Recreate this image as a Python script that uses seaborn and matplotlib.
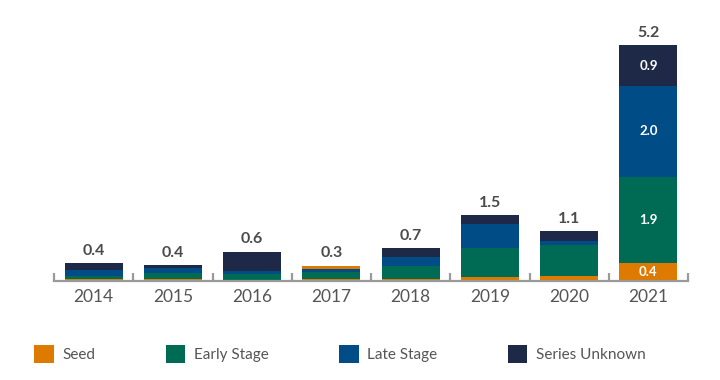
import matplotlib
matplotlib.use("Agg")
import matplotlib.pyplot as plt
import numpy as np
import pandas as pd
import seaborn as sns
from matplotlib.patches import Patch
from matplotlib.ticker import FixedLocator

years = ["2014", "2015", "2016", "2017", "2018", "2019", "2020", "2021"]
seed = [0.04, 0.04, 0.02, 0.03, 0.03, 0.08, 0.10, 0.4]
early = [0.06, 0.13, 0.13, 0.16, 0.30, 0.64, 0.68, 1.9]
late = [0.14, 0.10, 0.07, 0.07, 0.20, 0.53, 0.10, 2.0]
unknown = [0.15, 0.08, 0.42, 0.07, 0.19, 0.20, 0.21, 0.9]
totals = [0.4, 0.4, 0.6, 0.3, 0.7, 1.5, 1.1, 5.2]
series_names = ["Seed", "Early Stage", "Late Stage", "Series Unknown"]

ORANGE = "#DF7A00"
GREEN = "#006B55"
BLUE = "#004C86"
NAVY = "#1D2946"
TEXT = "#4B4B4B"
AXIS = "#9A9A9A"

sns.set_theme(style="white")
plt.rcParams["font.family"] = ["Lato", "DejaVu Sans"]

df = pd.DataFrame({"Year": years, "Seed": seed, "Early Stage": early,
                   "Late Stage": late, "Series Unknown": unknown})
df["c1"] = df["Seed"]
df["c2"] = df["c1"] + df["Early Stage"]
df["c3"] = df["c2"] + df["Late Stage"]
df["c4"] = df["c3"] + df["Series Unknown"]

fig = plt.figure(figsize=(7.2, 3.8), dpi=100)
ax = fig.add_axes([54 / 720, 99.3 / 380, 634 / 720, 260.7 / 380])

# the 2017 top segment is orange in the source chart
top_colors = [NAVY if y != "2017" else ORANGE for y in years]
bar_kw = dict(width=0.73, saturation=1, linewidth=0, ax=ax)
sns.barplot(data=df, x="Year", y="c4", hue="Year", palette=top_colors, legend=False, **bar_kw)
sns.barplot(data=df, x="Year", y="c3", color=BLUE, **bar_kw)
sns.barplot(data=df, x="Year", y="c2", color=GREEN, **bar_kw)
sns.barplot(data=df, x="Year", y="c1", color=ORANGE, **bar_kw)

ax.set_xlim(-0.5, 7.5)
ax.set_ylim(0, 5.755)
ax.set_xlabel("")
ax.set_ylabel("")
ax.set_yticks([])
for side in ["left", "top", "right"]:
    ax.spines[side].set_visible(False)
ax.spines["bottom"].set_color(AXIS)
ax.spines["bottom"].set_linewidth(1.6)

ax.tick_params(axis="x", which="major", bottom=True, length=0, pad=6, labelsize=12.5,
               labelcolor="#555555")
ax.xaxis.set_minor_locator(FixedLocator(np.arange(-0.5, 8, 1)))
ax.tick_params(axis="x", which="minor", bottom=True, direction="in", length=6, width=1.6,
               color=AXIS)

for i, tot in enumerate(totals):
    ax.annotate(f"{tot:.1f}", xy=(i, df["c4"][i]), xytext=(0, 6), textcoords="offset points",
                ha="center", va="baseline", fontsize=11.5, fontweight="bold", color=TEXT)

# segment labels on the 2021 bar
last = len(years) - 1
bottoms = [0, df["c1"][last], df["c2"][last], df["c3"][last]]
vals = [seed[last], early[last], late[last], unknown[last]]
for b, v in zip(bottoms, vals):
    ax.text(last, b + v / 2, f"{v:.1f}", ha="center", va="center",
            fontsize=9.5, fontweight="bold", color="white")

handles = [Patch(facecolor=c, edgecolor="none") for c in [ORANGE, GREEN, BLUE, NAVY]]
fig.legend(handles, series_names, loc="center left", bbox_to_anchor=(34 / 720, 26 / 380),
           ncol=4, frameon=False, borderpad=0, borderaxespad=0, fontsize=11,
           handlelength=1.3, handleheight=1.45, handletextpad=0.55, columnspacing=4.6,
           labelcolor="#555555")

fig.savefig("out.png", dpi=100)
